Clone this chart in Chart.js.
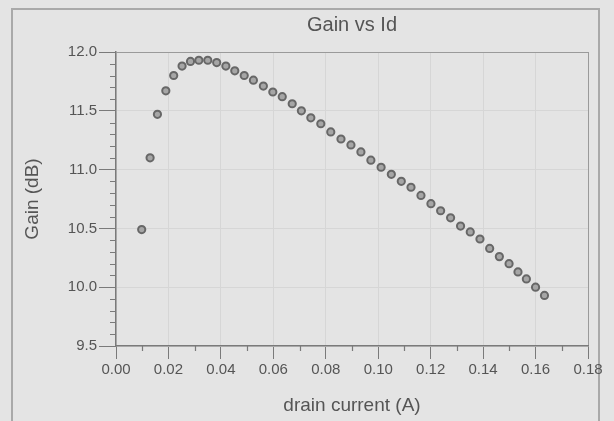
<!DOCTYPE html>
<html>
<head>
<meta charset="utf-8">
<script src="https://cdn.jsdelivr.net/npm/chart.js@4.4.1/dist/chart.umd.min.js"></script>
<style>
  html, body { margin: 0; padding: 0; background: #e4e4e4; }
  #wrap { width: 614px; height: 421px; }
</style>
</head>
<body>
<div id="wrap"><canvas id="gainChart" width="614" height="421"></canvas></div>
<script>
const chartTitle = 'Gain vs Id';
const xTitle = 'drain current (A)';
const yTitle = 'Gain (dB)';

// drain current (A)
const drainCurrent = [
    0.0098, 0.0130, 0.0158, 0.0190, 0.0220, 0.0252, 0.0284, 0.0316, 0.0350, 0.0384,
    0.0419, 0.0453, 0.0489, 0.0524, 0.0562, 0.0598, 0.0634, 0.0672, 0.0707, 0.0743,
    0.0781, 0.0819, 0.0858, 0.0896, 0.0934, 0.0972, 0.1011, 0.1050, 0.1088, 0.1125,
    0.1163, 0.1201, 0.1238, 0.1276, 0.1314, 0.1351, 0.1388, 0.1425, 0.1462, 0.1499,
    0.1533, 0.1565, 0.1600, 0.1634
];
// gain (dB)
const gain = [
    10.49, 11.10, 11.47, 11.67, 11.80, 11.88, 11.92, 11.93, 11.93, 11.91,
    11.88, 11.84, 11.80, 11.76, 11.71, 11.66, 11.62, 11.56, 11.50, 11.44,
    11.39, 11.32, 11.26, 11.21, 11.15, 11.08, 11.02, 10.96, 10.90, 10.85,
    10.78, 10.71, 10.65, 10.59, 10.52, 10.47, 10.41, 10.33, 10.26, 10.20,
    10.13, 10.07, 10.00, 9.93
];

const xRange = [0, 0.18];
const yRange = [9.5, 12.0];

const points = drainCurrent.map(function (x, i) { return { x: x, y: gain[i] }; });

const textColor = '#555555';
const axisColor = '#7a7a7a';
const gridColor = '#d6d6d6';

// frame, title and minor ticks
const decorations = {
    id: 'decorations',
    beforeDraw: function (chart) {
        const c = chart.ctx;
        c.save();
        c.strokeStyle = '#a9a9a9';
        c.lineWidth = 2;
        c.beginPath();
        c.moveTo(12, 421);
        c.lineTo(12, 9);
        c.lineTo(599, 9);
        c.lineTo(599, 421);
        c.stroke();
        c.restore();
    },
    afterDraw: function (chart) {
        const c = chart.ctx;
        const area = chart.chartArea;
        const xs = chart.scales.x;
        const ys = chart.scales.y;
        c.save();
        c.fillStyle = textColor;
        c.font = '20px "Liberation Sans", Arial, sans-serif';
        c.textAlign = 'center';
        c.textBaseline = 'middle';
        c.fillText(chartTitle, (area.left + area.right) / 2, 25);

        c.strokeStyle = axisColor;
        c.lineWidth = 1.2;
        c.beginPath();
        for (let v = xRange[0] + 0.01; v < xRange[1]; v += 0.02) {
            const px = Math.round(xs.getPixelForValue(v)) + 0.5;
            c.moveTo(px, area.bottom);
            c.lineTo(px, area.bottom + 5);
        }
        for (let k = 1; k < 25; k++) {
            if (k % 5 === 0) continue;
            const py = Math.round(ys.getPixelForValue(yRange[0] + k * 0.1)) + 0.5;
            c.moveTo(area.left - 6, py);
            c.lineTo(area.left, py);
        }
        c.stroke();
        c.restore();
    }
};

const ctx = document.getElementById('gainChart').getContext('2d');
new Chart(ctx, {
    type: 'scatter',
    data: {
        datasets: [{
            label: yTitle,
            data: points,
            backgroundColor: '#a6a6a6',
            borderColor: '#676767',
            borderWidth: 2,
            pointRadius: 3.6,
            pointHoverRadius: 3.6
        }]
    },
    options: {
        responsive: false,
        animation: false,
        layout: {
            padding: { left: 0, right: 26, top: 52, bottom: 0 }
        },
        plugins: {
            legend: { display: false },
            title: { display: false },
            tooltip: { enabled: false }
        },
        scales: {
            x: {
                type: 'linear',
                min: xRange[0],
                max: xRange[1],
                afterFit: function (scale) { scale.height = 75; },
                border: { color: axisColor, width: 1.5 },
                grid: {
                    color: function (c) {
                        if (Math.abs(c.tick.value - xRange[1]) < 1e-9) return '#9a9a9a';
                        return gridColor;
                    },
                    tickColor: axisColor,
                    tickLength: 13,
                    lineWidth: 1
                },
                ticks: {
                    stepSize: 0.02,
                    padding: 2,
                    color: textColor,
                    font: { family: '"Liberation Sans", Arial, sans-serif', size: 15 },
                    maxRotation: 0,
                    callback: function (v) { return v.toFixed(2); }
                },
                title: {
                    display: true,
                    text: xTitle,
                    color: textColor,
                    font: { family: '"Liberation Sans", Arial, sans-serif', size: 19 },
                    padding: { top: 0, bottom: 4 }
                }
            },
            y: {
                type: 'linear',
                min: yRange[0],
                max: yRange[1],
                afterFit: function (scale) { scale.width = 116; },
                border: { color: axisColor, width: 1.5 },
                grid: {
                    color: function (c) {
                        if (Math.abs(c.tick.value - yRange[1]) < 1e-9) return '#9a9a9a';
                        return gridColor;
                    },
                    tickColor: axisColor,
                    tickLength: 17,
                    lineWidth: 1
                },
                ticks: {
                    stepSize: 0.5,
                    padding: 2,
                    color: textColor,
                    font: { family: '"Liberation Sans", Arial, sans-serif', size: 15 },
                    callback: function (v) { return v.toFixed(1); }
                },
                title: {
                    display: true,
                    text: yTitle,
                    color: textColor,
                    font: { family: '"Liberation Sans", Arial, sans-serif', size: 19 },
                    padding: { top: 21, bottom: 0 }
                }
            }
        }
    },
    plugins: [decorations]
});
</script>
</body>
</html>
